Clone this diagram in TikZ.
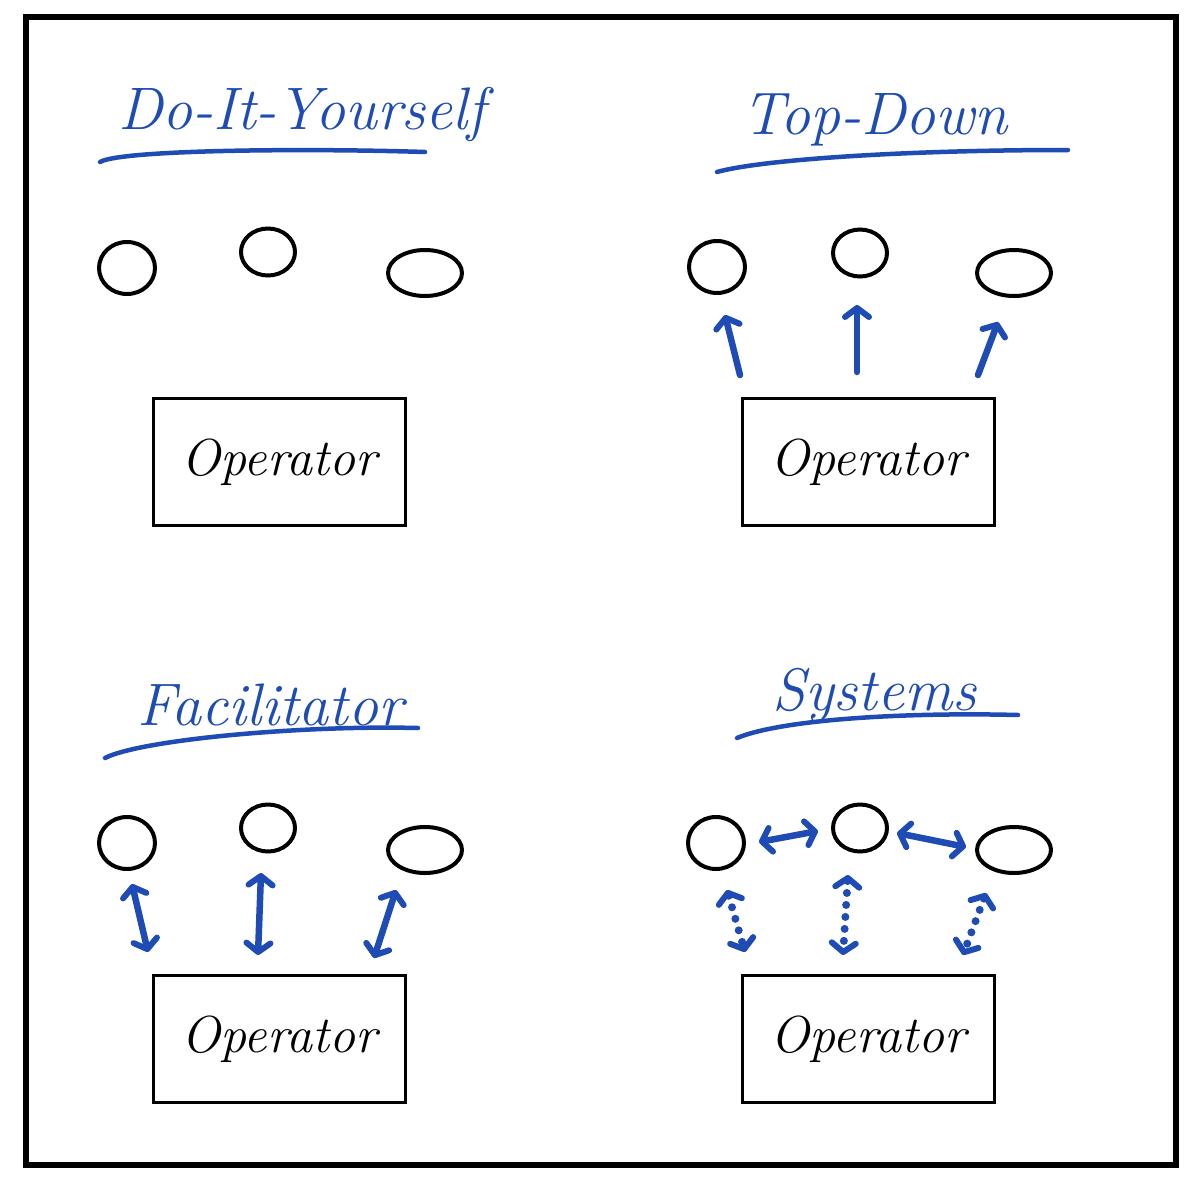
\documentclass[tikz,border=0pt]{standalone}
\usepackage{fontspec}
\usetikzlibrary{arrows.meta,shapes.geometric}
\definecolor{pen}{RGB}{30,75,180}
\begin{document}
\begin{tikzpicture}[x=1pt,y=-1pt,
  frame/.style={draw=black,line width=6pt},
  opbox/.style={draw=black,line width=3pt,minimum width=252pt,minimum height=127pt,inner sep=0pt,
     font=\fontsize{52}{56}\selectfont\itshape},
  blob/.style={draw=black,ellipse,line width=4pt,inner sep=0pt},
  title/.style={text=pen,inner sep=0pt,font=\fontsize{60}{66}\selectfont\itshape},
  uline/.style={draw=pen,line width=4.5pt,line cap=round},
  harrow/.style={draw=pen,line width=6.5pt,line cap=round,
     -{Straight Barb[length=9pt,width=24pt,line width=6pt,round]}},
  darrow/.style={harrow,{Straight Barb[length=9pt,width=24pt,line width=6pt,round]}-{Straight Barb[length=9pt,width=24pt,line width=6pt,round]}},
  dotarrow/.style={darrow,line width=8pt,dash pattern=on 0pt off 12pt}
]
\useasboundingbox (0,0) rectangle (1200,1183);
\draw[frame] (26,17) rectangle (1176,1165);

% ---------- Do-It-Yourself ----------
\node[title] (t1) at (302,114) {Do-It-Yourself};
\draw[uline] (100,162) .. controls (120,150) and (300,148) .. (425,152);
\node[blob,minimum width=56pt,minimum height=52pt] (a1) at (127,268) {};
\node[blob,minimum width=54pt,minimum height=47pt] (a2) at (268,252) {};
\node[blob,minimum width=74pt,minimum height=46pt] (a3) at (425,273) {};
\node[opbox] (b1) at (279,462) {Operator};

% ---------- Top-Down ----------
\node[title] (t2) at (875,120) {Top-Down};
\draw[uline] (717,172) .. controls (760,160) and (900,150) .. (1068,150);
\node[blob,minimum width=56pt,minimum height=52pt] (c1) at (717,267) {};
\node[blob,minimum width=54pt,minimum height=47pt] (c2) at (860,253) {};
\node[blob,minimum width=74pt,minimum height=46pt] (c3) at (1014,273) {};
\node[opbox] (b2) at (868,462) {Operator};
\coordinate (p1) at (740,375); \coordinate (q1) at (725,315);
\coordinate (p2) at (857,372); \coordinate (q2) at (857,305);
\coordinate (p3) at (978,375); \coordinate (q3) at (998,322);
\draw[harrow] (p1) -- (q1);
\draw[harrow] (p2) -- (q2);
\draw[harrow] (p3) -- (q3);

% ---------- Facilitator ----------
\node[title] (t4t) at (270,705) {Facilitator};
\draw[uline] (105,758) .. controls (140,740) and (300,725) .. (418,728);
\node[blob,minimum width=56pt,minimum height=52pt] (d1) at (127,843) {};
\node[blob,minimum width=54pt,minimum height=47pt] (d2) at (268,828) {};
\node[blob,minimum width=74pt,minimum height=46pt] (d3) at (425,850) {};
\node[opbox] (b3) at (279,1039) {Operator};
\coordinate (r1) at (132,884); \coordinate (s1) at (148,952);
\coordinate (r2) at (261,873); \coordinate (s2) at (258,955);
\coordinate (r3) at (396,890); \coordinate (s3) at (374,958);
\draw[darrow] (r1) -- (s1);
\draw[darrow] (r2) -- (s2);
\draw[darrow] (r3) -- (s3);

% ---------- Systems ----------
\node[title] (t4) at (874,695) {Systems};
\draw[uline] (737,738) .. controls (780,720) and (900,712) .. (1018,715);
\node[blob,minimum width=56pt,minimum height=52pt] (e1) at (716,843) {};
\node[blob,minimum width=54pt,minimum height=47pt] (e2) at (860,828) {};
\node[blob,minimum width=74pt,minimum height=46pt] (e3) at (1014,850) {};
\node[opbox] (b4) at (868,1039) {Operator};
\coordinate (h1) at (759,842); \coordinate (k1) at (818,831);
\coordinate (h2) at (897,833); \coordinate (k2) at (966,847);
\draw[darrow] (h1) -- (k1);
\draw[darrow] (h2) -- (k2);
\coordinate (u1) at (727,890); \coordinate (v1) at (745,952);
\coordinate (u2) at (848,875); \coordinate (v2) at (843,955);
\coordinate (u3) at (986,893); \coordinate (v3) at (963,955);
\draw[dotarrow] (u1) -- (v1);
\draw[dotarrow] (u2) -- (v2);
\draw[dotarrow] (u3) -- (v3);
\end{tikzpicture}
\end{document}
